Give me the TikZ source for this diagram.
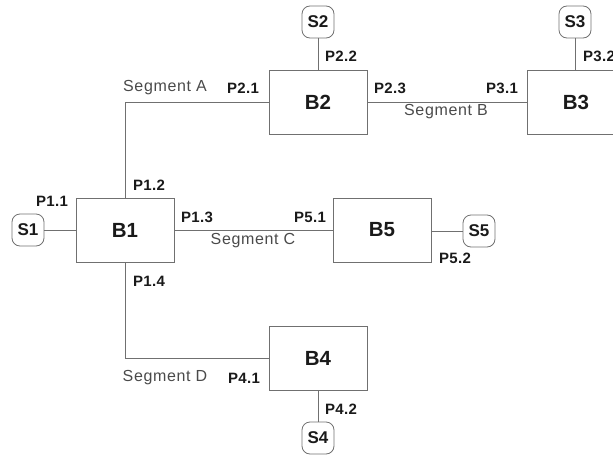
\documentclass[tikz,border=0pt]{standalone}
\usepackage{fontspec}
\setmainfont{Liberation Sans}
\newfontfamily\portfont[LetterSpace=2]{Liberation Sans}
\newfontfamily\segfont[LetterSpace=4]{Liberation Sans}
\definecolor{linegray}{HTML}{707070}
\definecolor{porttxt}{HTML}{1A1A1A}
\definecolor{segtxt}{HTML}{4A4A4A}
\begin{document}
\begin{tikzpicture}[x=1pt,y=-1pt,
  block/.style={draw=linegray, line width=0.8pt, minimum width=98pt, minimum height=64pt,
    inner sep=0pt, text=porttxt, font=\fontsize{20.5}{20.5}\selectfont\bfseries},
  src/.style={draw=linegray, line width=0.8pt, rounded corners=8pt, minimum width=32pt,
    minimum height=32pt, inner sep=0pt, text=porttxt, font=\fontsize{17}{17}\selectfont\bfseries},
  port/.style={inner sep=0pt, text=porttxt, font=\portfont\fontsize{15}{15}\selectfont\bfseries},
  seg/.style={inner sep=0pt, text=segtxt, font=\segfont\fontsize{16}{16}\selectfont},
  wire/.style={draw=linegray, line width=0.8pt}]
\useasboundingbox (0,0) rectangle (613,455);

% blocks
\node[block] (B1) at (125,230) {B1};
\node[block] (B2) at (318,102) {B2};
\node[block] (B3) at (576,102) {B3};
\node[block] (B4) at (318,358) {B4};
\node[block] (B5) at (382,230) {B5};

% sources
\node[src] (S1) at (28,230) {S1};
\node[src] (S2) at (318,22) {S2};
\node[src] (S3) at (575,22) {S3};
\node[src] (S4) at (318,438) {S4};
\node[src] (S5) at (479,231) {S5};

% source links
\draw[wire] (S1) -- (B1);
\draw[wire] (S2) -- (B2);
\draw[wire] (S3) -- (S3 |- B3.north);
\draw[wire] (S4) -- (B4);
\draw[wire] (S5.west) -- (B5.east |- S5.west);

% segments
\draw[wire] (B1.north) |- (B2.west);
\draw[wire] (B2.east) -- (B3.west);
\draw[wire] (B1.east) -- (B5.west);
\draw[wire] (B1.south) |- (B4.west);

% port labels
\node[port] (p11) at (52,201) {P1.1};
\node[port] (p12) at (149,185) {P1.2};
\node[port] (p13) at (197,217) {P1.3};
\node[port] (p14) at (149,281) {P1.4};
\node[port] (p21) at (243,88) {P2.1};
\node[port] (p22) at (341,56) {P2.2};
\node[port] (p23) at (390,88) {P2.3};
\node[port] (p31) at (502,88) {P3.1};
\node[port] (p32) at (599,56) {P3.2};
\node[port] (p41) at (244,378) {P4.1};
\node[port] (p42) at (341,409) {P4.2};
\node[port] (p51) at (310,217) {P5.1};
\node[port] (p52) at (455,258) {P5.2};

% segment labels
\node[seg] (segA) at (165,88) {Segment A};
\node[seg] (segB) at (446,112) {Segment B};
\node[seg] (segC) at (253,241) {Segment C};
\node[seg] (segD) at (165,378) {Segment D};
\end{tikzpicture}
\end{document}
